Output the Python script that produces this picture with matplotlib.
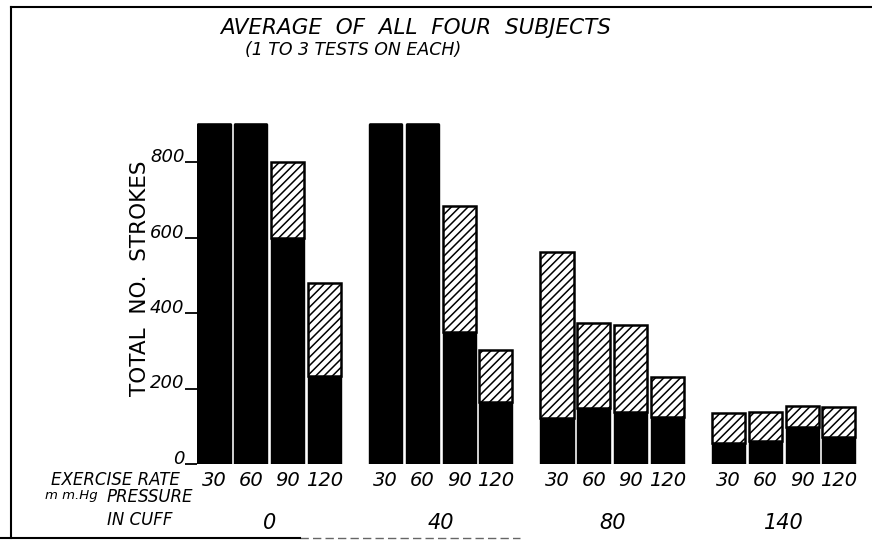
import matplotlib.pyplot as plt
from matplotlib.lines import Line2D

plt.rcParams['font.family'] = ['DejaVu Sans']
plt.rcParams['hatch.linewidth'] = 1.1

# data
pressures = ["0", "40", "80", "140"]
rates = ["30", "60", "90", "120"]
# total strokes (top of each bar)
total_p0 = [900, 900, 800, 480]
total_p40 = [900, 900, 683, 302]
total_p80 = [562, 373, 368, 231]
total_p140 = [136, 139, 154, 151]
# solid (black) part of each bar
solid_p0 = [900, 900, 600, 233]
solid_p40 = [900, 900, 350, 165]
solid_p80 = [122, 148, 139, 125]
solid_p140 = [56, 62, 99, 71]
yticks = [0, 200, 400, 600, 800]

totals = [total_p0, total_p40, total_p80, total_p140]
solids = [solid_p0, solid_p40, solid_p80, solid_p140]

W, H = 872, 543
fig = plt.figure(figsize=(W / 100, H / 100), dpi=100)

def fx(px):
    return px / W

def fy(py):
    return 1 - py / H

# axes placed so that y=0 sits at pixel row 464 and 1000 at row 86.5
ax = fig.add_axes([fx(197), fy(464), fx(860) - fx(197), (464 - 86.5) / H])
group_gap = 4.66
bar_w = 0.9

xs_all = []
for g, (tot, sol) in enumerate(zip(totals, solids)):
    xs = [g * group_gap + i for i in range(len(rates))]
    xs_all += xs
    ax.bar(xs, sol, width=bar_w, color='black', edgecolor='black', linewidth=1)
    hatch_h = [t - s for t, s in zip(tot, sol)]
    ax.bar(xs, hatch_h, bottom=sol, width=bar_w, color='white', edgecolor='black',
           hatch='////', linewidth=1.8)
    ax.text(g * group_gap + 1.5, -0.155, pressures[g], transform=ax.get_xaxis_transform(),
            ha='center', va='center', fontsize=15, style='italic')

ax.set_xlim(-0.462, (860 - 214) / 36.8)
ax.set_ylim(0, 1000)
for s in ax.spines.values():
    s.set_visible(False)

ax.set_xticks(xs_all)
ax.set_xticklabels(rates * len(pressures), fontsize=14, style='italic')
ax.tick_params(axis='x', length=0, pad=5)

ax.set_yticks(yticks)
ax.set_yticklabels([str(v) for v in yticks], fontsize=13, style='italic')
ax.tick_params(axis='y', length=9, width=1.3, pad=0, direction='out')
for lab in ax.get_yticklabels():
    lab.set_verticalalignment('baseline')

fig.text(fx(140), fy(278), "TOTAL  NO.  STROKES", rotation=90, ha='center', va='center',
         fontsize=15.5)

fig.text(fx(416), fy(28), "AVERAGE  OF  ALL  FOUR  SUBJECTS", ha='center', va='center',
         fontsize=15.5, style='italic')
fig.text(fx(353), fy(50), "(1 TO 3 TESTS ON EACH)", ha='center', va='center',
         fontsize=12.5, style='italic')

fig.text(fx(180), fy(480), "EXERCISE RATE", ha='right', va='center', fontsize=12, style='italic')
fig.text(fx(45), fy(496), "m m.Hg", ha='left', va='center', fontsize=9.5, style='italic')
fig.text(fx(193), fy(497), "PRESSURE", ha='right', va='center', fontsize=12, style='italic')
fig.text(fx(140), fy(520), "IN CUFF", ha='center', va='center', fontsize=12, style='italic')

# hand drawn frame
fig.add_artist(Line2D([fx(11), fx(11)], [fy(7), fy(538)], color='black', lw=1.5))
fig.add_artist(Line2D([fx(11), fx(872)], [fy(7), fy(7)], color='black', lw=1.5))
fig.add_artist(Line2D([fx(0), fx(300)], [fy(538), fy(538)], color='black', lw=1.5))
fig.add_artist(Line2D([fx(300), fx(520)], [fy(538), fy(538)], color='black', lw=1,
                      ls=(0, (6, 3)), alpha=0.6))

fig.savefig("out.png", dpi=100)
